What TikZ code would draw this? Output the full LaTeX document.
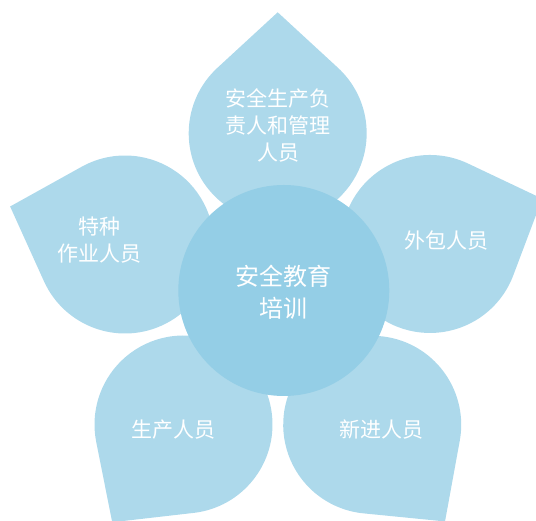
\documentclass[tikz,border=0pt]{standalone}
\usepackage{fontspec}
\newfontfamily\cjk{Noto Sans CJK SC}
\definecolor{petalblue}{RGB}{173,217,235}
\definecolor{coreblue}{RGB}{148,206,230}
\begin{document}
\begin{tikzpicture}[x=1pt,y=1pt,
  petal/.style={fill=petalblue, draw=none},
  core/.style={circle, fill=coreblue, draw=none, minimum size=211pt, inner sep=0pt},
  lbl/.style={text=white, font=\cjk\fontsize{21}{27}\selectfont, align=center, inner sep=0pt},
  corelbl/.style={text=white, font=\cjk\fontsize{24}{32}\selectfont, align=center, inner sep=0pt}]
\useasboundingbox (0,0) rectangle (536,521);
\clip (0,0) rectangle (536,521);
% petals: body centre, direction of tip
\foreach \cx/\cy/\ang in {277.7/387.7/90, 430/277/22, 125/276.5/161.7, 183.5/96.5/233.9, 372.2/96.2/307}{
  \fill[petal, shift={(\cx,\cy)}, rotate=\ang]
    (121pt,0pt) -- (42.65:89pt) arc[start angle=42.65, end angle=317.35, radius=89pt] -- cycle;
}
\node[core] (c) at (283.8,230.5) {};
\node[corelbl] (ct) at (283.5,229) {安全教育\\培训};
\node[lbl] (top) at (278,395.5) {安全生产负\\责人和管理\\人员};
\node[lbl] (left) at (99,281) {特种\\作业人员};
\node[lbl] (right) at (446.8,280) {外包人员};
\node[lbl] (bl) at (173.3,91) {生产人员};
\node[lbl] (br) at (381.7,91) {新进人员};
\end{tikzpicture}
\end{document}
